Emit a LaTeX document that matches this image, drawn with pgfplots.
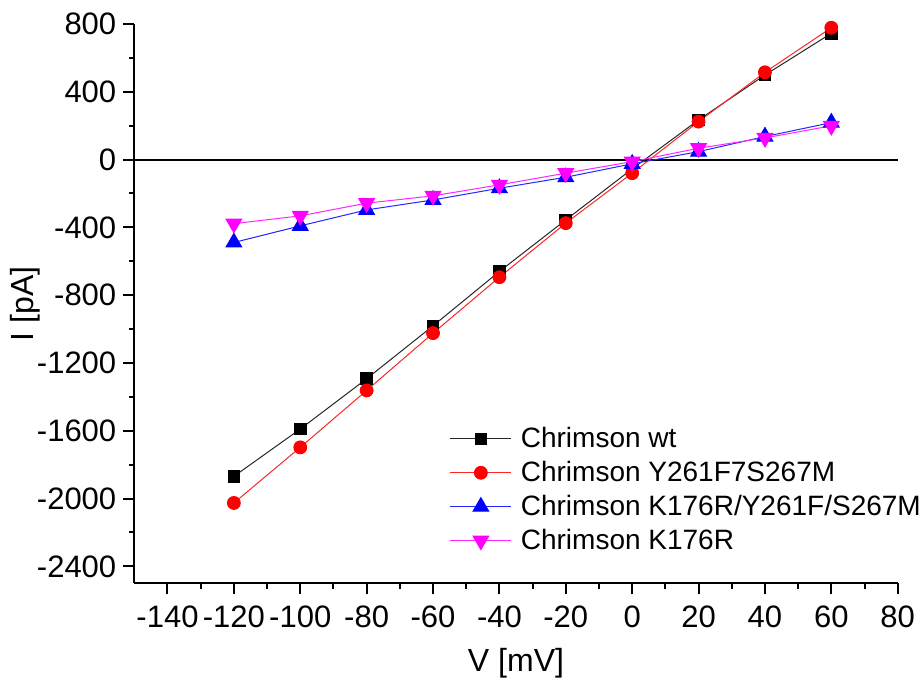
\documentclass[border=0pt]{standalone}
\usepackage{fontspec}
\setmainfont{Liberation Sans}
\usepackage{pgfplots}
\pgfplotsset{compat=1.18}
\definecolor{pmag}{RGB}{255,0,255}
\definecolor{pred}{RGB}{255,0,0}
\definecolor{pblue}{RGB}{0,0,255}
\begin{document}
\begin{tikzpicture}
\begin{axis}[
 width=381.7pt, height=279.65pt, scale only axis,
 xmin=-150, xmax=80, ymin=-2500, ymax=800,
 axis lines*=left,
 axis line style={line width=1pt},
 xtick={-140,-120,...,80}, ytick={-2400,-2000,...,800},
 minor x tick num=1, minor y tick num=1,
 tick align=outside,
 major tick length=5.5pt, minor tick length=2.75pt,
 tick style={line width=1pt, black},
 /pgf/number format/assume math mode=true,
 /pgf/number format/set thousands separator={},
 ticklabel style={font=\fontsize{15.5}{18}\selectfont},
 xticklabel style={yshift=-2pt},
 xlabel={V [mV]}, ylabel={I [pA]},
 label style={font=\fontsize{16}{19}\selectfont},
 xlabel style={at={(axis description cs:0.5,-0.1425)}, anchor=center},
 ylabel style={at={(axis description cs:-0.1432,0.5)}, anchor=center},
 legend style={at={(axis description cs:0.405,0.294)}, anchor=north west, draw=none, fill=none, font=\fontsize{14}{16}\selectfont, row sep=1.3pt,
   /tikz/every odd column/.style={column sep=2.5pt}},
 legend cell align=left,
 legend image code/.code={\draw[mark repeat=2,mark phase=2,#1] plot coordinates {(0pt,0pt) (15.25pt,0pt) (30.5pt,0pt)};},
 clip=false,
]
\addplot[black, line width=1pt, forget plot] coordinates {(-150,0) (80,0)};
\addplot[black!85, line width=0.5pt, mark=square*, mark size=2.9pt, mark options={solid, fill=black, draw=black}] coordinates {
(-120,-1869) (-100,-1590) (-80,-1293) (-60,-981) (-40,-660) (-20,-356) (0,-55) (20,234) (40,499) (60,745)};
\addlegendentry{Chrimson wt}
\addplot[pred!85, line width=0.5pt, mark=*, mark size=3.2pt, mark options={solid, fill=pred, draw=pred}] coordinates {
(-120,-2026) (-100,-1698) (-80,-1362) (-60,-1024) (-40,-694) (-20,-375) (0,-80) (20,224) (40,515) (60,778)};
\addlegendentry{Chrimson Y261F7S267M}
\addplot[pblue!85, line width=0.5pt, mark=triangle*, mark size=4.5pt, mark options={solid, fill=pblue, draw=pblue}] coordinates {
(-120,-489) (-100,-391) (-80,-297) (-60,-238) (-40,-169) (-20,-104) (0,-25) (20,47) (40,136) (60,218)};
\addlegendentry{Chrimson K176R/Y261F/S267M}
\addplot[pmag!85, line width=0.5pt, mark=triangle*, mark size=4.5pt, mark options={solid, fill=pmag, draw=pmag, rotate=180}] coordinates {
(-120,-378) (-100,-332) (-80,-257) (-60,-214) (-40,-149) (-20,-80) (0,-12) (20,67) (40,128) (60,199)};
\addlegendentry{Chrimson K176R}
\coordinate (bbsw) at (rel axis cs:0,0);
\coordinate (bbne) at (rel axis cs:1,1);
\end{axis}
\pgfresetboundingbox
\path ([shift={(-67.15pt,-53.35pt)}]bbsw) rectangle ([shift={(13.15pt,12pt)}]bbne);
\end{tikzpicture}
\end{document}
